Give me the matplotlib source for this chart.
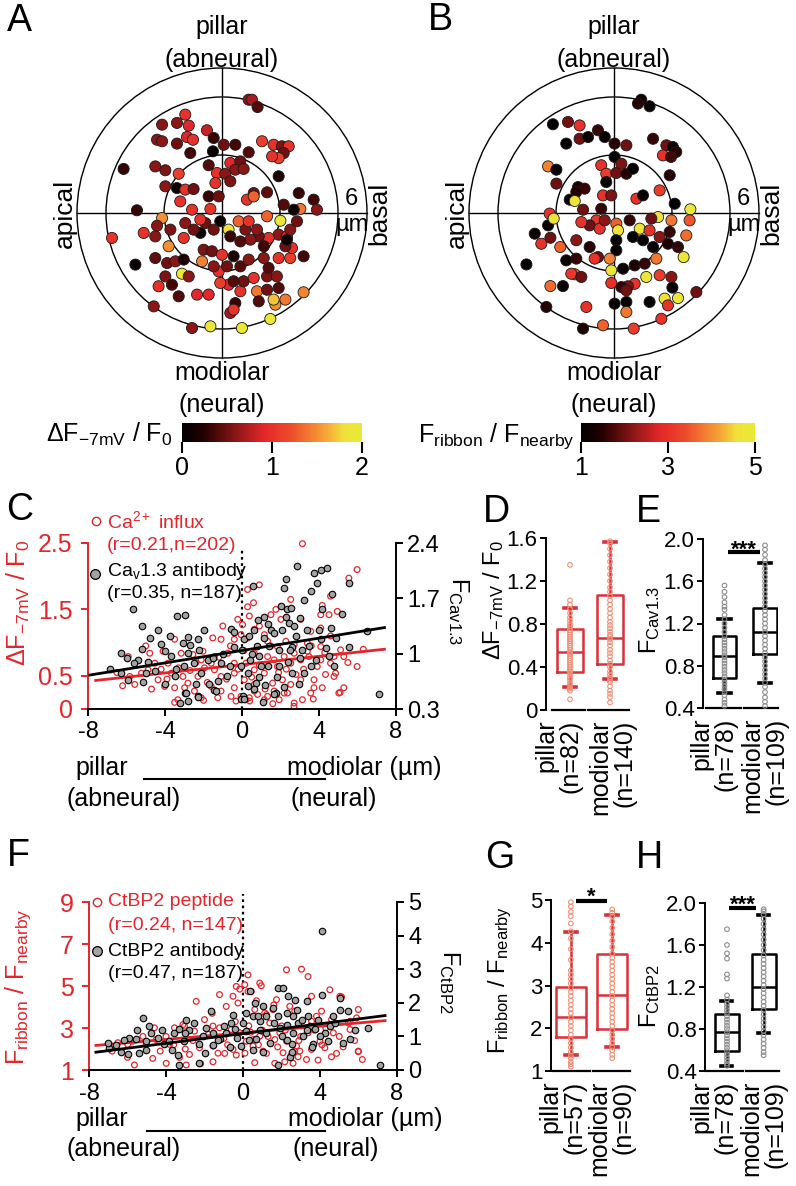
import numpy as np
import matplotlib
matplotlib.use('Agg')
import matplotlib.pyplot as plt
from matplotlib.colors import LinearSegmentedColormap, Normalize
from matplotlib.patches import Circle
from matplotlib.lines import Line2D

plt.rcParams['font.family'] = ['Liberation Sans', 'DejaVu Sans']
plt.rcParams['mathtext.fontset'] = 'custom'
plt.rcParams['mathtext.rm'] = 'Liberation Sans'
plt.rcParams['mathtext.it'] = 'Liberation Sans'
plt.rcParams['mathtext.bf'] = 'Liberation Sans:bold'
plt.rcParams['mathtext.default'] = 'regular'
plt.rcParams['axes.unicode_minus'] = False

# ---------------- data ----------------
# panel A: synapse positions (um) and dF/F0
a_x = [1.38, 1.55, 1.84, -1.90, -2.33, -3.10, -1.72, -0.78, -0.43, -1.81,
       -1.50, -3.36, -3.10, -2.33, -1.64, -0.47, 0.09, 0.69, 1.38, 2.07,
       2.67, 3.10, 3.45, 3.19, 2.93, 2.59, -5.09, -3.45, -2.93, -2.24,
       -0.69, -0.26, 0.17, 0.43, 0.95, 0.69, 1.12, 2.93, -2.93, -2.33,
       -1.90, -1.47, -0.34, 0.43, -0.69, -0.17, -2.16, -1.55, -0.60, 1.64,
       1.29, 1.64, 2.33, 3.97, 4.74, 4.91, 4.05, 3.71, 3.19, -4.40,
       -3.10, -3.36, -4.05, -3.45, -2.76, -5.69, -4.48, -1.98, -3.45, -2.84,
       -2.41, -2.07, -1.98, -1.72, -1.03, -2.93, -2.59, -3.28, -2.24, -1.29,
       -0.69, -3.53, -1.55, -0.60, 1.03, 2.50, 4.22, 3.28, 2.76, 2.67,
       1.81, 1.90, 2.93, 2.33, 0.43, 0.69, 0.60, 0.34, 0.95, 1.12,
       -0.09, 0.60, -0.17, -0.43, -0.95, -0.52, 0.00, 0.60, 0.26, 0.95,
       1.38, 1.64, 2.33, 2.41, 2.84, 2.16, 2.93, 3.53, 4.22, 3.62,
       3.28, 2.93, 3.36, 3.36, 2.41, 1.90, 2.16, 1.47, 0.95, 1.21,
       1.81, 0.86, 1.38, 2.33, 3.02, 3.53, 3.88, 0.34, 0.43, -0.09,
       -1.12, -1.47, -0.86, -1.90, -2.67, -1.12, -0.43]
a_y = [5.86, 5.86, 5.48, 5.09, 4.66, 4.57, 4.52, 4.28, 3.88, 3.93,
       3.79, 3.79, 3.71, 3.59, 3.10, 3.19, 3.53, 3.53, 3.14, 3.71,
       3.53, 3.45, 3.45, 3.10, 2.84, 2.93, 2.28, 2.41, 2.21, 2.03,
       2.47, 2.07, 2.03, 2.59, 2.67, 2.24, 2.28, 1.90, 1.38, 1.29,
       1.21, 1.24, 1.55, 1.64, 0.86, 0.86, 0.60, 0.17, 0.21, 1.03,
       0.69, 0.86, 1.07, 1.03, 0.69, 0.17, 0.21, 0.17, 0.43, 0.14,
       -0.26, -0.66, -1.03, -1.21, -1.72, -1.29, -2.67, -1.29, -2.33, -2.59,
       -2.50, -3.14, -2.41, -3.28, -2.50, -3.28, -3.71, -3.79, -4.31, -4.22,
       -4.22, -4.83, -5.95, -5.86, -5.95, -5.48, -4.10, -4.48, -4.74, -4.48,
       -4.05, -4.57, -3.88, -3.97, -5.17, -4.66, -5.00, -3.71, -4.05, -3.53,
       -3.62, -3.53, -3.02, -2.76, -1.90, -1.98, -2.16, -2.24, -2.76, -2.76,
       -2.41, -3.36, -3.28, -2.84, -3.28, -2.33, -2.33, -2.33, -2.24, -1.81,
       -1.72, -1.12, -1.21, -1.38, -1.29, -1.21, -1.72, -1.38, -1.47, -0.86,
       -0.86, -0.43, -0.43, -0.17, -0.40, -0.86, -0.43, -0.86, -1.21, -0.43,
       -1.03, -0.86, -0.52, -0.52, -0.86, -0.34, -0.86]
a_v = [0.6, 0.7, 0.4, 1.0, 0.6, 0.6, 0.9, 0.8, 0.3, 0.9,
       1.0, 0.6, 0.6, 0.5, 0.35, 0.05, 0.5, 0.35, 0.4, 1.1,
       1.0, 0.55, 1.0, 0.5, 1.1, 1.0, 0.3, 0.6, 0.55, 1.1,
       0.4, 1.0, 0.6, 0.9, 0.5, 0.6, 0.6, 0.2, 0.6, 0.1,
       1.0, 0.5, 1.0, 0.55, 0.3, 0.5, 1.0, 1.0, 1.0, 0.5,
       1.0, 1.3, 0.45, 0.3, 0.35, 0.6, 1.4, 0.1, 0.4, 0.3,
       1.5, 0.6, 1.0, 0.6, 1.5, 1.0, 0.05, 1.0, 0.45, 0.5,
       0.6, 1.9, 0.2, 0.6, 1.45, 0.55, 0.35, 1.0, 0.4, 0.9,
       0.9, 0.6, 0.6, 1.9, 1.95, 1.9, 1.45, 1.4, 1.5, 1.7,
       1.4, 0.4, 0.4, 0.5, 0.7, 0.3, 1.0, 0.9, 1.0, 0.5,
       1.1, 0.4, 1.0, 0.6, 0.55, 0.5, 1.0, 0.15, 0.5, 0.4,
       0.6, 1.0, 0.55, 0.4, 0.6, 0.6, 1.0, 1.1, 0.35, 1.0,
       0.5, 0.6, 1.0, 0.1, 1.0, 0.5, 0.35, 0.6, 0.4, 0.55,
       0.6, 1.3, 1.0, 1.3, 1.9, 0.6, 0.5, 1.8, 0.3, 0.05,
       0.05, 0.5, 0.5, 0.6, 0.55, 1.0, 0.5]

# panel B: synapse positions (um) and Fribbon/Fnearby
b_x = [1.41, 1.24, 1.84, -3.16, -2.38, -1.78, -2.47, -1.78, -1.34, -0.83,
       -0.48, 0.03, 0.64, 2.02, 2.71, 3.05, 3.22, 2.53, 2.95, 0.03,
       -3.41, -2.98, -2.98, -0.66, -0.40, 0.12, 0.38, 0.64, 0.98, 2.88,
       -0.40, -1.86, -1.52, -1.95, -2.29, -2.03, -1.60, -0.57, -0.14, -0.66,
       1.16, 1.50, 2.36, 3.14, 3.95, 2.28, 2.97, 3.91, 1.93, 0.81,
       0.12, 0.21, 1.33, 0.98, 1.50, 2.02, 1.84, 2.36, 2.88, 2.79,
       3.31, 3.74, 3.60, -0.91, -1.26, -1.69, -0.74, -0.48, 0.12, 0.12,
       -0.22, -0.14, 0.47, 1.07, 1.59, 2.19, 2.36, 2.97, 3.02, 4.26,
       3.31, 2.62, 2.79, 2.45, 1.84, 1.67, 1.07, 0.72, 0.38, 0.64,
       0.64, 0.64, 0.03, -0.14, -0.83, -1.00, -1.26, -1.95, -2.47, -2.03,
       -2.21, -1.69, -2.64, -3.29, -1.43, -0.57, -1.60, 1.02, -3.50, -4.53,
       -4.10, -3.76, -3.29, -2.78, -3.41, -3.33, -3.12, -1.95]
b_y = [5.86, 5.66, 5.52, 4.59, 4.71, 4.53, 3.59, 3.84, 3.93, 4.28,
       3.93, 3.59, 3.50, 3.84, 3.50, 3.41, 3.16, 2.98, 2.90, 2.90,
       2.41, 2.24, 1.52, 2.47, 2.03, 2.07, 2.55, 2.03, 2.29, 1.95,
       1.60, 1.34, 1.26, 1.09, 0.69, 0.62, 0.17, 0.91, 0.91, 0.22,
       0.74, 0.91, 1.17, 0.48, 0.19, -0.21, -0.38, -0.38, -0.29, -0.38,
       -0.55, -0.90, -0.81, -1.24, -1.41, -1.76, -0.90, -1.24, -0.98, -1.59,
       -1.76, -1.16, -2.28, -0.38, -0.64, -0.47, -0.81, -0.38, -1.41, -1.93,
       -2.36, -2.97, -2.88, -2.71, -2.62, -2.36, -3.22, -3.31, -3.86, -4.09,
       -4.40, -4.43, -4.78, -5.47, -4.60, -3.31, -3.66, -3.79, -3.83, -4.00,
       -4.60, -5.12, -4.69, -3.62, -2.28, -2.36, -1.76, -2.36, -2.45, -3.17,
       -3.14, -3.31, -3.78, -3.78, -4.86, -5.81, -5.98, -5.98, -4.86, -2.66,
       -1.07, -1.59, -1.28, -1.76, -0.64, -0.03, -0.29, -1.41]
b_v = [1.2, 1.5, 1.1, 1.1, 2.0, 3.0, 1.1, 2.0, 1.2, 1.6,
       1.1, 1.5, 2.0, 1.6, 2.0, 1.2, 1.5, 3.0, 1.7, 1.1,
       3.9, 1.1, 2.0, 3.0, 3.2, 2.0, 2.1, 1.5, 1.1, 1.5,
       1.1, 1.4, 1.6, 1.5, 1.1, 4.7, 2.0, 3.0, 2.1, 1.6,
       3.0, 1.1, 3.2, 1.1, 4.8, 4.6, 3.8, 3.5, 2.0, 1.6,
       3.6, 4.7, 4.8, 1.1, 1.1, 1.1, 3.0, 2.2, 1.6, 1.4,
       1.6, 3.7, 4.8, 3.1, 2.0, 3.0, 3.0, 2.2, 1.1, 1.1,
       3.9, 4.8, 1.1, 1.4, 1.6, 3.8, 3.2, 2.2, 1.1, 2.0,
       4.8, 4.6, 3.0, 3.0, 1.1, 4.8, 3.0, 2.1, 1.6, 2.0,
       1.1, 3.8, 1.1, 3.0, 2.0, 3.0, 1.5, 1.6, 1.1, 3.6,
       3.1, 2.0, 1.1, 3.7, 3.0, 3.6, 1.4, 3.2, 1.5, 1.1,
       1.1, 3.0, 2.0, 3.6, 1.1, 3.0, 4.8, 2.2]

# panel C: position (um) vs Ca influx (left axis) and Cav1.3 (right axis)
c_blk_x = [-6.86, -6.26, -6.26, -5.66, -5.91, -5.22, -5.22, -5.14, -5.40, -4.79,
           -4.88, -4.36, -4.02, -3.76, -3.67, -3.41, -3.36, -2.98, -3.07, -2.81,
           -2.72, -2.81, -2.29, -2.21, -2.47, -2.12, -2.98, -2.81, -2.29, -1.78,
           -1.43, -1.26, -1.09, -0.57, -0.40, -0.05, 0.03, 0.29, 0.29, 0.12,
           0.38, 0.55, 0.64, 0.81, 0.90, 1.16, 1.33, 0.90, 0.72, 1.16,
           1.33, 1.50, 1.67, 1.76, 1.84, 1.93, 2.10, 2.28, 2.19, 2.28,
           2.36, 2.53, 2.45, 2.71, 2.79, 2.88, 2.62, 2.97, 3.22, 3.14,
           3.22, 3.40, 3.57, 3.74, 3.83, 3.91, 4.09, 4.17, 4.34, 4.43,
           4.60, 4.69, 4.09, 4.52, 4.78, 5.55, 5.55, 6.50, 7.10, -0.40,
           -3.24, -2.90, -2.29, -1.34, -0.05, 0.12, 1.07, 1.67, -1.50, -0.80,
           0.50, 1.00, 1.40, 2.40, 2.60, 3.00, 3.50, -3.50, -4.50, -5.60,
           -2.00, -1.00, 0.60, 2.20, -6.00, -4.00, -3.00, -1.70, -0.60, 0.00,
           0.80, 1.20, 1.90, 2.50, 3.00, 3.60, 4.00, 4.90, 5.20, -2.40,
           -4.20, -5.00, 0.40, 2.00]
c_blk_y = [0.81, 1.01, 0.75, 1.56, 0.67, 1.35, 1.06, 0.64, 0.92, 1.20,
           0.90, 1.30, 1.03, 1.22, 0.97, 0.80, 1.48, 1.49, 1.14, 1.21,
           1.11, 1.01, 1.18, 1.05, 0.88, 0.76, 0.50, 0.40, 0.46, 0.92,
           0.54, 0.65, 0.88, 1.31, 1.09, 0.84, 0.46, 0.76, 0.59, 1.18,
           1.22, 1.85, 1.30, 1.43, 0.97, 1.20, 0.84, 0.71, 0.63, 1.47,
           1.37, 1.30, 1.26, 0.50, 0.71, 1.05, 1.30, 1.94, 1.83, 1.47,
           1.56, 1.58, 1.39, 1.35, 1.22, 2.11, 1.09, 0.61, 1.68, 1.05,
           0.76, 1.30, 1.79, 2.02, 0.92, 1.89, 2.06, 1.56, 1.07, 2.08,
           1.33, 1.75, 1.18, 0.97, 0.84, 1.09, 1.89, 1.29, 0.49, 1.28,
           0.37, 0.50, 0.45, 0.53, 0.43, 0.43, 0.39, 0.49, 0.95, 0.72,
           1.00, 0.85, 1.10, 0.90, 0.75, 0.95, 1.10, 0.72, 0.78, 0.88,
           1.30, 1.00, 0.55, 0.58, 0.95, 0.62, 0.85, 0.62, 0.85, 1.05,
           1.10, 0.60, 0.85, 1.05, 1.45, 0.85, 1.30, 1.20, 1.50, 0.62,
           1.12, 0.75, 0.92, 1.60]
c_red_x = [3.14, 5.98, 5.55, 0.90, 4.60, 2.53, 0.29, 4.17, 0.29, 1.76,
           4.95, 4.09, 4.52, -0.22, 0.03, 0.38, 0.90, 2.02, 3.05, 3.57,
           4.09, -1.52, -1.09, -3.50, -4.10, -5.91, -4.79, -4.53, -3.16, -2.55,
           -2.03, -1.60, -0.40, -0.05, 1.16, 1.33, 2.28, 2.71, 3.40, 5.12,
           5.29, 5.98, 4.86, 4.34, 3.74, 3.74, 3.57, 2.71, 2.19, 1.67,
           1.33, 0.81, 0.38, -0.05, -0.57, -1.26, -2.12, -3.33, -3.50, -4.02,
           -4.36, -5.57, -5.83, -5.22, -3.67, -3.07, -2.81, -2.29, -1.95, -1.43,
           -1.09, -0.40, 0.21, 0.64, 1.16, 1.84, 2.53, 3.05, 3.48, 4.09,
           4.60, -1.43, -0.74, 0.64, 1.33, 2.19, 2.71, 3.40, 2.10, 2.53,
           3.05, 1.59, 0.64, 0.12, -0.40, -1.09, -1.60, -2.47, -2.98, 0.81,
           1.84, 4.09, 4.78, 3.91, 1.67, -0.40, -2.12, -3.84, -4.88, 0.29,
           1.50, 0.64, 4.78, 5.29, 5.03, 4.17, 3.14, 2.36, 1.93, 1.16,
           0.64, 0.21, -0.31, -3.50, -2.00, 0.40, 1.60, 2.70, 3.70, 5.10,
           -6.50, -6.20, -5.00, -4.70, -4.20, -3.90, -3.30, -2.70, -2.40, -1.80,
           -1.20, -0.80, -0.60, -0.20, 0.10, 0.50, 0.90, 1.20, 1.50, 1.90,
           2.30, 2.80, 3.20, 3.60, 4.30, 4.60, 5.50, 6.30, -1.00, 0.60]
c_red_y = [2.49, 2.10, 1.97, 1.87, 1.70, 1.65, 1.80, 1.56, 1.54, 1.50,
           1.47, 1.42, 1.42, 1.35, 1.27, 1.40, 1.25, 1.35, 1.35, 1.17,
           1.22, 1.07, 1.05, 1.05, 0.87, 0.79, 0.84, 0.69, 0.84, 0.82,
           0.87, 0.69, 1.05, 1.12, 1.12, 1.02, 1.02, 0.97, 0.99, 0.89,
           0.79, 0.64, 0.54, 0.52, 0.44, 0.32, 0.24, 0.09, 0.24, 0.27,
           0.19, 0.22, 0.17, 0.19, 0.19, 0.17, 0.17, 0.14, 0.32, 0.34,
           0.44, 0.37, 0.49, 0.54, 0.54, 0.49, 0.39, 0.49, 0.62, 0.59,
           0.49, 0.54, 0.69, 0.59, 0.54, 0.64, 0.69, 0.74, 0.79, 0.74,
           0.69, 0.79, 0.84, 0.84, 0.79, 0.79, 0.84, 0.87, 0.44, 0.37,
           0.44, 0.39, 0.37, 0.44, 0.32, 0.27, 0.34, 0.27, 0.32, 0.94,
           0.94, 0.94, 0.79, 0.64, 0.74, 0.69, 0.74, 0.69, 0.59, 1.07,
           1.42, 1.20, 0.49, 0.32, 0.24, 0.32, 0.14, 0.24, 0.14, 0.14,
           0.27, 0.14, 0.12, 0.10, 0.13, 0.12, 0.08, 0.04, 0.15, 0.25,
           0.55, 0.35, 0.95, 0.30, 0.60, 0.45, 0.62, 0.58, 0.70, 0.40,
           0.78, 0.45, 0.95, 0.60, 0.88, 0.48, 0.66, 0.30, 0.95, 0.55,
           0.60, 0.52, 0.60, 0.95, 0.85, 1.10, 0.70, 0.90, 1.25, 1.60]
c_red_fit_x = [-7.6, 7.4]
c_red_fit_y = [0.43, 0.90]
c_blk_fit_x = [-7.9, 7.4]
c_blk_fit_y = [0.73, 1.33]

# panel F: position (um) vs CtBP2 peptide (left axis) and antibody (right axis)
f_blk_x = [4.08, -6.94, -6.34, -5.90, -5.56, -5.21, -5.03, -4.77, -4.08, -3.82,
           -3.56, -3.30, -3.04, -2.95, -2.52, -2.26, -2.08, -1.65, -1.56, -1.22,
           -0.87, -0.52, -0.43, -0.09, 0.17, 0.35, 0.52, 0.61, 0.87, 1.04,
           1.22, 1.56, 1.82, 2.08, 1.91, 2.26, 2.34, 2.60, 2.69, 2.86,
           3.04, 3.30, 3.47, 3.73, 4.08, 4.25, 4.43, 4.69, 5.03, 5.03,
           5.47, 5.56, 6.51, 2.26, 2.60, 3.13, 3.65, 2.52, 1.22, 0.69,
           0.17, -6.60, -6.00, -5.38, -5.03, -3.38, -3.30, -2.26, -1.56, -0.69,
           0.52, 1.04, 1.82, 2.43, 2.52, 3.56, 5.21, 7.12, -4.40, -2.80,
           -1.90, -1.00, 0.00, 0.90, 1.60, 2.00, 3.30, 3.90, 4.50, -0.30,
           -7.00, -6.20, -5.50, -4.90, -4.20, -3.70, -3.00, -2.00, -1.30, -0.60,
           0.30, 0.80, 1.40, 1.80, 2.30, 2.80, 3.40, 4.00, 4.80, 5.80]
f_blk_y = [4.15, 0.66, 0.53, 0.96, 0.91, 1.55, 0.86, 1.11, 0.76, 0.86,
           1.11, 1.21, 0.86, 1.50, 1.40, 0.76, 1.01, 1.75, 1.11, 0.91,
           1.11, 1.65, 1.21, 0.71, 1.70, 2.34, 1.60, 2.00, 1.45, 1.90,
           1.60, 1.85, 2.44, 2.44, 1.25, 1.70, 2.19, 1.60, 2.09, 1.40,
           1.50, 2.05, 1.30, 1.21, 2.24, 1.11, 0.86, 1.60, 2.14, 1.80,
           1.75, 0.91, 1.25, 1.35, 1.11, 1.01, 0.76, 0.76, 1.11, 0.91,
           1.16, 0.75, 0.48, 0.52, 0.60, 0.45, 0.15, 0.20, 0.74, 0.69,
           0.60, 0.55, 0.15, 0.40, 0.55, 0.69, 0.79, 0.15, 0.95, 1.20,
           1.25, 1.30, 1.40, 1.20, 1.40, 1.00, 1.20, 1.50, 1.30, 0.95,
           0.80, 0.90, 1.20, 1.30, 1.20, 0.60, 1.10, 0.50, 0.90, 1.40,
           0.90, 1.60, 0.80, 1.60, 0.90, 1.80, 1.60, 1.00, 1.40, 1.20]
f_red_x = [2.26, 3.04, 3.38, 0.26, 0.09, -0.35, -0.17, 0.87, 0.95, -1.22,
           -2.43, -0.87, -0.26, -0.52, 0.26, 0.43, 0.61, 1.13, 1.56, 1.74,
           2.43, 2.69, 3.56, 4.08, 4.51, 5.03, 5.12, 5.99, 5.90, 5.47,
           5.56, 5.99, -3.12, -4.60, -5.03, -5.99, -5.73, -4.51, -3.82, -3.56,
           -3.04, -2.52, -2.00, -1.56, -1.22, -0.61, -0.17, 0.17, 0.52, 0.87,
           1.22, 1.39, 1.65, 1.91, 2.26, 2.78, 2.95, 3.38, 3.56, 3.82,
           4.00, 4.69, 5.56, -2.78, -2.26, -1.56, -0.52, 0.52, 1.04, 2.08,
           2.69, 3.56, 4.25, -5.64, -4.69, -3.99, -2.95, -1.56, -0.95, -0.35,
           0.61, 1.22, 1.65, 2.17, 2.60, 2.86, 3.90, 4.60, 4.86, 5.99,
           -6.50, -4.00, -3.00, -1.00, 0.30, 1.00, 2.00, 3.00, 4.30, 5.00,
           -6.80, -6.00, -5.20, -4.30, -3.60, -3.30, -2.60, -2.20, -1.80, -1.30,
           -0.80, -0.40, 0.10, 0.40, 0.80, 1.30, 1.80, 2.20, 2.50, 2.90,
           3.30, 3.70, 4.10, 4.60, 5.20, 5.80, 6.20, 1.60, -1.60, 0.70]
f_red_y = [5.77, 5.80, 5.45, 5.53, 5.06, 4.98, 4.85, 5.14, 5.01, 4.59,
           4.27, 4.03, 4.19, 4.51, 4.74, 4.74, 3.88, 3.72, 3.88, 4.35,
           4.03, 3.80, 4.51, 3.80, 4.82, 4.51, 4.48, 3.88, 3.48, 3.24,
           2.93, 1.90, 3.16, 3.01, 2.22, 2.22, 2.37, 2.45, 2.22, 3.01,
           3.09, 2.85, 3.40, 3.09, 3.01, 2.93, 2.77, 2.37, 2.45, 2.61,
           3.64, 3.24, 2.45, 2.77, 2.37, 2.14, 1.90, 2.77, 3.32, 3.56,
           2.37, 2.77, 3.32, 1.74, 2.06, 2.14, 1.98, 2.14, 1.90, 1.82,
           1.90, 1.98, 2.06, 1.24, 1.55, 1.32, 1.24, 1.39, 1.79, 1.71,
           1.35, 1.79, 1.32, 1.39, 1.32, 1.63, 1.47, 1.63, 1.79, 1.87,
           2.30, 2.60, 2.00, 2.50, 3.10, 2.90, 3.10, 2.60, 3.00, 2.60,
           1.90, 1.60, 2.60, 1.90, 2.20, 1.60, 2.40, 1.30, 2.70, 1.80,
           2.20, 3.30, 1.80, 2.80, 2.20, 2.60, 2.10, 2.90, 1.70, 2.40,
           1.50, 2.90, 2.20, 3.40, 2.10, 2.40, 1.50, 4.10, 3.70, 4.30]
f_red_fit_x = [-7.64, 7.38]
f_red_fit_y = [2.17, 3.35]
f_blk_fit_x = [-7.64, 7.38]
f_blk_fit_y = [0.53, 1.62]

# box plots: [pillar, modiolar]
d_q1, d_med, d_q3 = [0.35, 0.43], [0.54, 0.67], [0.755, 1.07]
d_lo, d_hi = [0.21, 0.29], [0.95, 1.56]
d_pillar = [0.10, 0.18, 0.20, 0.21, 0.23, 0.25, 0.28, 0.30, 0.33, 0.35, 0.36, 0.38, 0.40,
            0.42, 0.44, 0.46, 0.48, 0.50, 0.52, 0.53, 0.54, 0.56, 0.58, 0.60, 0.62, 0.64,
            0.66, 0.68, 0.70, 0.72, 0.74, 0.76, 0.78, 0.80, 0.83, 0.86, 0.90, 0.94, 0.98,
            1.02, 1.35]
d_modiolar = [0.07, 0.12, 0.15, 0.18, 0.22, 0.26, 0.28, 0.30, 0.33, 0.36, 0.40, 0.43, 0.46,
              0.50, 0.53, 0.56, 0.60, 0.63, 0.66, 0.68, 0.70, 0.73, 0.76, 0.79, 0.82, 0.86,
              0.90, 0.94, 0.98, 1.02, 1.06, 1.10, 1.14, 1.20, 1.26, 1.32, 1.38, 1.44, 1.50,
              1.55, 1.57]
e_q1, e_med, e_q3 = [0.68, 0.91], [0.89, 1.115], [1.08, 1.35]
e_lo, e_hi = [0.54, 0.64], [1.24, 1.77]
e_pillar = [0.42, 0.45, 0.48, 0.52, 0.55, 0.58, 0.61, 0.64, 0.67, 0.70, 0.73, 0.76, 0.79,
            0.82, 0.85, 0.88, 0.90, 0.93, 0.96, 0.99, 1.02, 1.05, 1.08, 1.12, 1.16, 1.20,
            1.24, 1.28, 1.33, 1.36, 1.40, 1.45, 1.50, 1.56]
e_modiolar = [0.42, 0.46, 0.50, 0.55, 0.60, 0.64, 0.68, 0.72, 0.76, 0.80, 0.84, 0.88, 0.92,
              0.96, 1.00, 1.04, 1.08, 1.12, 1.16, 1.20, 1.24, 1.28, 1.32, 1.36, 1.40, 1.44,
              1.48, 1.52, 1.56, 1.60, 1.64, 1.68, 1.72, 1.76, 1.80, 1.85, 1.90, 1.94]
g_q1, g_med, g_q3 = [1.80, 1.98], [2.26, 2.78], [2.97, 3.74]
g_lo, g_hi = [1.37, 1.56], [4.25, 4.65]
g_pillar = [1.10, 1.16, 1.22, 1.30, 1.36, 1.45, 1.55, 1.65, 1.75, 1.85, 1.95, 2.05, 2.15,
            2.25, 2.35, 2.45, 2.55, 2.65, 2.75, 2.85, 2.95, 3.05, 3.15, 3.25, 3.35, 3.60,
            3.85, 4.10, 4.27, 4.45, 4.62, 4.72, 4.85, 4.95]
g_modiolar = [1.30, 1.38, 1.48, 1.56, 1.65, 1.75, 1.85, 1.95, 2.05, 2.15, 2.25, 2.35, 2.45,
              2.55, 2.65, 2.75, 2.85, 2.95, 3.05, 3.15, 3.25, 3.35, 3.45, 3.55, 3.65, 3.75,
              3.90, 4.05, 4.20, 4.35, 4.50, 4.62, 4.70, 4.78]
h_q1, h_med, h_q3 = [0.59, 0.99], [0.77, 1.20], [0.94, 1.51]
h_lo, h_hi = [0.45, 0.76], [1.07, 1.89]
h_pillar = [0.45, 0.47, 0.50, 0.53, 0.56, 0.59, 0.62, 0.65, 0.68, 0.71, 0.74, 0.77, 0.80,
            0.83, 0.86, 0.89, 0.92, 0.95, 0.98, 1.01, 1.04, 1.08, 1.12, 1.28, 1.32, 1.47,
            1.52, 1.60, 1.75]
h_modiolar = [0.55, 0.58, 0.62, 0.66, 0.70, 0.74, 0.78, 0.82, 0.86, 0.90, 0.94, 0.98, 1.02,
              1.06, 1.10, 1.14, 1.18, 1.22, 1.26, 1.30, 1.34, 1.38, 1.42, 1.46, 1.50, 1.55,
              1.60, 1.65, 1.70, 1.75, 1.80, 1.85, 1.89, 1.92, 1.94]

d_cats = ['pillar\n(n=82)', 'modiolar\n(n=140)']
e_cats = ['pillar\n(n=78)', 'modiolar\n(n=109)']
g_cats = ['pillar\n(n=57)', 'modiolar\n(n=90)']
h_cats = ['pillar\n(n=78)', 'modiolar\n(n=109)']

# ---------------- style ----------------
W, H = 796, 1186
RED = '#e2262c'
BOXRED = '#d9313a'
SALMON = '#ef8f78'
GREY_PT = '#8c8c8c'
RINGS = [3, 6, 7.5]
PX_PER_UM = 145 / 7.5
CMAP = LinearSegmentedColormap.from_list('heat', [
    (0.0, '#000000'), (0.12, '#240000'), (0.3, '#8c1616'), (0.45, '#e3262a'),
    (0.6, '#ee4a2b'), (0.8, '#f6a436'), (0.9, '#f0e23a'), (1.0, '#e9e935')])

fig = plt.figure(figsize=(W / 100, H / 100), dpi=100)


def axes_px(x0, y0, x1, y1):
    return fig.add_axes([x0 / W, 1 - y1 / H, (x1 - x0) / W, (y1 - y0) / H])


def text_px(x, y, s, **kw):
    kw.setdefault('ha', 'center')
    kw.setdefault('va', 'center')
    return fig.text(x / W, 1 - y / H, s, **kw)


def marker_px(x, y, **kw):
    fig.add_artist(Line2D([x / W], [1 - y / H], ls='', marker='o', **kw))


def hline_px(x0, x1, y, lw=1.5):
    fig.add_artist(Line2D([x0 / W, x1 / W], [1 - y / H, 1 - y / H], color='k', lw=lw))


def ring_panel(cx, cy, xs, ys, vs, vmin, vmax):
    half = 155
    ax = axes_px(cx - half, cy - half, cx + half, cy + half)
    lim = half / PX_PER_UM
    ax.set_xlim(-lim, lim)
    ax.set_ylim(-lim, lim)
    ax.axis('off')
    for r in RINGS:
        ax.add_patch(Circle((0, 0), r, fill=False, lw=1.0, ec='k'))
    ax.plot([-7.5, 7.5], [0, 0], color='k', lw=1.0)
    ax.plot([0, 0], [-7.5, 7.5], color='k', lw=1.0)
    ax.scatter(xs, ys, c=vs, cmap=CMAP, vmin=vmin, vmax=vmax, s=64,
               edgecolors='#1a1a1a', linewidths=0.6, zorder=3)
    kw = dict(ha='center', va='center', fontsize=18, clip_on=False)
    ax.text(0, 9.62, 'pillar', **kw)
    ax.text(0, 7.92, '(abneural)', **kw)
    ax.text(0, -8.28, 'modiolar', **kw)
    ax.text(0, -9.93, '(neural)', **kw)
    ax.text(-8.12, 0, 'apical', rotation=90, ha='center', va='center', fontsize=19)
    ax.text(8.12, 0, 'basal', rotation=90, ha='center', va='center', fontsize=19)
    ax.text(6.67, 0.72, '6', ha='center', va='center', fontsize=17)
    ax.text(6.7, -0.62, 'µm', ha='center', va='center', fontsize=17)
    return ax


def colorbar_px(box, vmin, vmax, ticks):
    cax = axes_px(*box)
    sm = plt.cm.ScalarMappable(norm=Normalize(vmin, vmax), cmap=CMAP)
    cb = fig.colorbar(sm, cax=cax, orientation='horizontal', ticks=ticks)
    cb.outline.set_visible(False)
    cb.set_ticklabels([str(t) for t in ticks])
    cax.tick_params(length=8, width=1.5, labelsize=18, pad=2)


def box_panel(box, xlim, ylim, yticks, ytl, q1, med, q3, lo, hi, pts, lc, pc,
              width, segs, cat_x, cats):
    ax = axes_px(*box)
    stats = [dict(q1=q1[i], med=med[i], q3=q3[i], whislo=lo[i], whishi=hi[i], fliers=[])
             for i in range(2)]
    lp = dict(color=lc, linewidth=1.8)
    ax.bxp(stats, positions=[1, 2], widths=width, showfliers=False, capwidths=0.3,
           boxprops=lp, whiskerprops=lp, medianprops=lp,
           capprops=dict(color=lc, linewidth=2.6), manage_ticks=False)
    for p, vals in zip([1, 2], pts):
        ax.scatter(np.full(len(vals), p), vals, s=11, facecolors='none', edgecolors=pc,
                   linewidths=0.8, zorder=4, clip_on=False)
    ax.set_xlim(xlim)
    ax.set_ylim(ylim)
    ax.set_yticks(yticks)
    ax.set_yticklabels(ytl)
    ax.set_xticks([])
    for s in ['top', 'right', 'bottom']:
        ax.spines[s].set_visible(False)
    ax.spines['left'].set_linewidth(1.4)
    ax.tick_params(axis='y', labelsize=16, length=4, width=1.4, pad=2)
    for a, b in segs:
        ax.plot([a, b], [ylim[0], ylim[0]], color='k', lw=1.6, clip_on=False)
    for x, lab in zip(cat_x, cats):
        ax.annotate(lab, xy=(x, 0), xycoords=('data', 'axes fraction'), xytext=(0, -7),
                    textcoords='offset points', rotation=90, ha='center', va='top',
                    multialignment='right', fontsize=18, linespacing=1.0)
    return ax


def sig(ax, x0, x1, y, ty, label, tx):
    ax.plot([x0, x1], [y, y], color='k', lw=3, clip_on=False, solid_capstyle='butt')
    ax.text(tx, ty, label, ha='center', va='baseline', fontsize=16, fontweight='bold',
            clip_on=False)


def scatter_panel(box, ylim_l, ylim_r, yt_l, yt_r, red_x, red_y, blk_x, blk_y,
                  rfx, rfy, bfx, bfy, dot_top):
    ax = axes_px(*box)
    ax.set_xlim(-8, 8)
    ax.set_ylim(*ylim_l)
    ax2 = ax.twinx()
    ax2.set_ylim(*ylim_r)
    ax.scatter(red_x, red_y, s=17, facecolors='none', edgecolors=RED, linewidths=0.9,
               clip_on=False, zorder=2)
    ax2.scatter(blk_x, blk_y, s=22, facecolors='#a3a3a3', edgecolors='k', linewidths=0.8,
                clip_on=False, zorder=2)
    ax.plot(rfx, rfy, color=RED, lw=2, zorder=3)
    ax2.plot(bfx, bfy, color='k', lw=2, zorder=3)
    ax.plot([0, 0], [ylim_l[0], dot_top], ls=(0, (1.2, 1.6)), color='k', lw=1.6,
            clip_on=False, zorder=1)
    ax.set_xticks([-8, -4, 0, 4, 8])
    ax.set_xticklabels(['-8', '-4', '0', '4', '8'])
    ax.set_yticks(yt_l[0])
    ax.set_yticklabels(yt_l[1])
    ax2.set_yticks(yt_r[0])
    ax2.set_yticklabels(yt_r[1])
    ax.spines['top'].set_visible(False)
    ax.spines['right'].set_visible(False)
    ax.spines['left'].set_color(RED)
    for s in ['top', 'left', 'bottom']:
        ax2.spines[s].set_visible(False)
    for sp in [ax.spines['left'], ax.spines['bottom'], ax2.spines['right']]:
        sp.set_linewidth(1.4)
    ax.tick_params(axis='y', colors=RED, labelsize=18, length=5, width=1.4, pad=6)
    ax.tick_params(axis='x', labelsize=17, length=5, width=1.4, pad=4)
    ax2.tick_params(axis='y', labelsize=17, length=5, width=1.4, pad=3)
    return ax, ax2


# ---------------- A / B ----------------
ring_panel(222, 213, a_x, a_y, a_v, 0, 2)
ring_panel(614, 213, b_x, b_y, b_v, 1, 5)
colorbar_px((182, 423, 362, 442), 0, 2, [0, 1, 2])
colorbar_px((581, 423, 755, 442), 1, 5, [1, 3, 5])
text_px(172, 442, r'$\Delta F_{-7mV}$ / $F_0$', ha='right', va='baseline', fontsize=18)
text_px(575, 442, r'$F_{ribbon}$ / $F_{nearby}$', ha='right', va='baseline', fontsize=18)

# ---------------- C ----------------
scatter_panel((88, 543, 396, 709), (0, 2.5), (0.3, 2.4),
              ([0, 0.5, 1.5, 2.5], ['0', '0.5', '1.5', '2.5']),
              ([0.3, 1, 1.7, 2.4], ['0.3', '1', '1.7', '2.4']),
              c_red_x, c_red_y, c_blk_x, c_blk_y,
              c_red_fit_x, c_red_fit_y, c_blk_fit_x, c_blk_fit_y, 2.42)
text_px(18, 603, r'$\Delta F_{-7mV}$ / $F_0$', rotation=90, fontsize=18, color=RED)
text_px(458, 611, r'$F_{Cav1.3}$', rotation=270, fontsize=17)
marker_px(96, 521, ms=6, mfc='none', mec=RED, mew=1.0)
text_px(107, 521, r'Ca$^{2+}$ influx', ha='left', fontsize=14, color=RED)
text_px(107, 545, '(r=0.21,n=202)', ha='left', fontsize=14, color=RED)
marker_px(95, 574, ms=7, mfc='#a3a3a3', mec='k', mew=0.9)
text_px(107, 572, r'$Ca_v$1.3 antibody', ha='left', fontsize=14)
text_px(107, 594, '(r=0.35, n=187)', ha='left', fontsize=14)
text_px(102, 768, 'pillar', fontsize=18)
text_px(124, 799, '(abneural)', fontsize=18)
text_px(287, 768, 'modiolar (µm)', ha='left', fontsize=18)
text_px(334, 799, '(neural)', fontsize=18)
hline_px(144, 325, 779)

# ---------------- F ----------------
scatter_panel((89, 902, 397, 1070), (1, 9), (0, 5),
              ([1, 3, 5, 7, 9], ['1', '3', '5', '7', '9']),
              ([0, 1, 2, 3, 4, 5], ['0', '1', '2', '3', '4', '5']),
              f_red_x, f_red_y, f_blk_x, f_blk_y,
              f_red_fit_x, f_red_fit_y, f_blk_fit_x, f_blk_fit_y, 9.4)
text_px(18, 987, r'$F_{ribbon}$ / $F_{nearby}$', rotation=90, fontsize=18, color=RED)
text_px(449, 982, r'$F_{CtBP2}$', rotation=270, fontsize=17)
marker_px(97, 902, ms=6, mfc='none', mec=RED, mew=1.0)
text_px(108, 902, 'CtBP2 peptide', ha='left', fontsize=14, color=RED)
text_px(108, 925, '(r=0.24, n=147)', ha='left', fontsize=14, color=RED)
marker_px(97, 951, ms=7, mfc='#a3a3a3', mec='k', mew=0.9)
text_px(108, 951, 'CtBP2 antibody', ha='left', fontsize=14)
text_px(108, 973, '(r=0.47, n=187)', ha='left', fontsize=14)
text_px(102, 1119, 'pillar', fontsize=18)
text_px(124, 1149, '(abneural)', fontsize=18)
text_px(288, 1119, 'modiolar (µm)', ha='left', fontsize=18)
text_px(336, 1149, '(neural)', fontsize=18)
hline_px(147, 325, 1131)

# ---------------- D / E ----------------
box_panel((546, 538, 629, 710), (0.4, 2.475), (0, 1.6), [0, 0.4, 0.8, 1.2, 1.6],
          ['0', '0.4', '0.8', '1.2', '1.6'], d_q1, d_med, d_q3, d_lo, d_hi,
          [d_pillar, d_modiolar], BOXRED, SALMON, 0.66,
          [(0.55, 1.38), (1.45, 2.475)], [0.70, 2.05], d_cats)
axE = box_panel((703, 539, 778, 708), (0.47, 2.32), (0.4, 2.0), [0.4, 0.8, 1.2, 1.6, 2.0],
                ['0.4', '0.8', '1.2', '1.6', '2.0'], e_q1, e_med, e_q3, e_lo, e_hi,
                [e_pillar, e_modiolar], 'k', GREY_PT, 0.58,
                [(0.54, 1.41), (1.48, 2.32)], [0.72, 1.98], e_cats)
sig(axE, 1.09, 1.88, 1.877, 1.84, '***', 1.48)
text_px(494, 600, r'$\Delta F_{-7mV}$ / $F_0$', rotation=90, fontsize=17)
text_px(650, 620, r'$F_{Cav1.3}$', rotation=90, fontsize=17)

# ---------------- G / H ----------------
axG = box_panel((551, 900, 635, 1071), (0.52, 2.55), (1, 5), [1, 2, 3, 4, 5],
                ['1', '2', '3', '4', '5'], g_q1, g_med, g_q3, g_lo, g_hi,
                [g_pillar, g_modiolar], BOXRED, SALMON, 0.72,
                [(0.57, 1.46), (1.53, 2.42)], [0.80, 1.99], g_cats)
sig(axG, 1.12, 1.87, 4.98, 4.93, '*', 1.5)
axH = box_panel((705, 903, 779, 1071), (0.40, 2.42), (0.4, 2.0), [0.4, 0.8, 1.2, 1.6, 2.0],
                ['0.4', '0.8', '1.2', '1.6', '2.0'], h_q1, h_med, h_q3, h_lo, h_hi,
                [h_pillar, h_modiolar], 'k', GREY_PT, 0.66,
                [(0.43, 1.44), (1.52, 2.42)], [0.62, 1.99], h_cats)
sig(axH, 1.06, 1.80, 1.952, 1.924, '***', 1.43)
text_px(500, 980, r'$F_{ribbon}$ / $F_{nearby}$', rotation=90, fontsize=17)
text_px(650, 996, r'$F_{CtBP2}$', rotation=90, fontsize=17)

# ---------------- panel letters ----------------
for lab, x, y in [('A', 19, 21), ('B', 440, 20), ('C', 20, 510), ('D', 496, 512),
                  ('E', 648, 512), ('F', 18, 856), ('G', 500, 858), ('H', 649, 858)]:
    text_px(x, y, lab, fontsize=27)

fig.savefig('out.png', dpi=100)
